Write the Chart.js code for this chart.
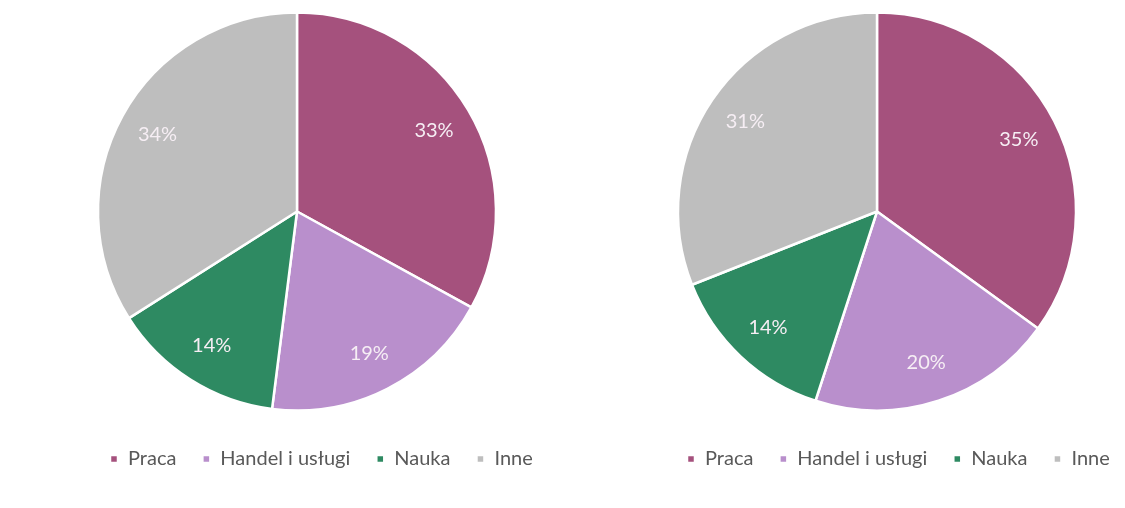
<!DOCTYPE html>
<html>
<head>
<meta charset="utf-8">
<script src="https://cdn.jsdelivr.net/npm/chart.js@4.4.1/dist/chart.umd.min.js"></script>
<style>
  body { margin: 0; background: #fff; }
  .box { position: absolute; top: 0; width: 560px; height: 508px; }
</style>
</head>
<body>
<div class="box" style="left:0"><canvas id="pieLeft"></canvas></div>
<div class="box" style="left:565px"><canvas id="pieRight"></canvas></div>
<script>
const categories = ['Praca', 'Handel i usługi', 'Nauka', 'Inne'];
const leftValues = [33, 19, 14, 34];
const rightValues = [35, 20, 14, 31];
const sliceColors = ['#a5517d', '#b98fcc', '#2e8a62', '#bebebe'];

// percent labels placed inside each slice at 80% of radius
const sliceLabels = {
    id: 'sliceLabels',
    afterDatasetsDraw(chart) {
        const ctx = chart.ctx;
        const meta = chart.getDatasetMeta(0);
        ctx.save();
        ctx.font = '20px Lato';
        ctx.fillStyle = '#f6eef4';
        ctx.textAlign = 'center';
        ctx.textBaseline = 'middle';
        meta.data.forEach((arc, i) => {
            const p = arc.getProps(['x', 'y', 'startAngle', 'endAngle', 'outerRadius']);
            const mid = (p.startAngle + p.endAngle) / 2;
            const r = p.outerRadius * 0.8;
            ctx.fillText(chart.data.datasets[0].data[i] + '%', p.x + Math.cos(mid) * r, p.y + Math.sin(mid) * r);
        });
        ctx.restore();
    }
};

// legend in the original sits a bit right of the pie centre
const legendShift = {
    id: 'legendShift',
    afterLayout(chart, args, opts) {
        chart.legend.left += opts.dx;
        chart.legend.right += opts.dx;
    }
};

function makePie(id, values, padLeft, padRight, dx) {
    const ctx = document.getElementById(id).getContext('2d');
    return new Chart(ctx, {
        type: 'pie',
        data: {
            labels: categories,
            datasets: [{
                data: values,
                backgroundColor: sliceColors,
                borderColor: '#ffffff',
                borderWidth: 2.5,
                radius: 199
            }]
        },
        options: {
            responsive: true,
            maintainAspectRatio: false,
            animation: false,
            layout: { padding: { top: 0, bottom: 29, left: padLeft, right: padRight } },
            plugins: {
                tooltip: { enabled: false },
                legendShift: { dx: dx },
                legend: {
                    position: 'bottom',
                    align: 'start',
                    labels: {
                        boxWidth: 8,
                        boxHeight: 8,
                        padding: 26,
                        color: '#595959',
                        font: { family: 'Lato', size: 20 }
                    }
                }
            }
        },
        plugins: [sliceLabels, legendShift]
    });
}

makePie('pieLeft', leftValues, 55, 21, 29);
makePie('pieRight', rightValues, 64, 0, 32);
</script>
</body>
</html>
